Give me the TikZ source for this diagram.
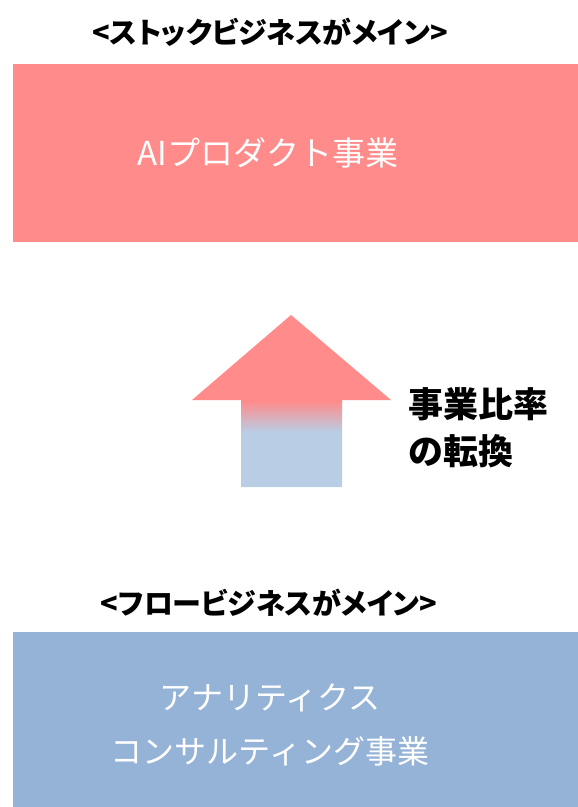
\documentclass[tikz,border=0pt]{standalone}
\usepackage{fontspec}
\setmainfont{Noto Sans CJK JP}
\newfontfamily\headfont[RawFeature=+palt]{Noto Sans CJK JP}
\usetikzlibrary{positioning}

\definecolor{stockred}{RGB}{255,139,139}
\definecolor{flowblue}{RGB}{149,179,215}
\definecolor{paleblue}{RGB}{185,205,228}
\pgfdeclareverticalshading{ratioshade}{100bp}{color(0bp)=(paleblue); color(41bp)=(paleblue); color(50bp)=(stockred); color(100bp)=(stockred)}

\begin{document}
\begin{tikzpicture}[x=1pt,y=-1pt,
    bizbox/.style={rectangle, inner sep=0pt, minimum width=566pt, minimum height=178pt},
    boxtext/.style={text=white, align=center, font=\fontsize{32}{54}\selectfont},
    headline/.style={font=\headfont\fontsize{29}{34}\selectfont\bfseries},
    shifttext/.style={align=left, anchor=west, font=\fontsize{35}{47}\selectfont\bfseries}]
  \useasboundingbox (0,0) rectangle (578,807);

  % stock side
  \node[bizbox, fill=stockred]   (ai)      at (296,153) {};
  \node[boxtext, font=\fontsize{33}{54}\selectfont] (aitext) at (268,153) {AIプロダクト事業};
  \node[headline]                (stock)   at (270,32)  {<ストックビジネスがメイン>};

  % flow side
  \node[bizbox, fill=flowblue, minimum height=176pt] (ana) at (296,720) {};
  \node[boxtext]                 (anatext) at (270,725) {アナリティクス\\コンサルティング事業};
  \node[headline]                (flow)    at (269,603) {<フロービジネスがメイン>};

  % ratio shift arrow
  \shade[shading=ratioshade] (291,315) -- (391,400) -- (342,400) -- (342,487)
        -- (241,487) -- (241,400) -- (192,400) -- cycle;
  \node[shifttext]               (shift)   at (405,428) {事業比率\\の転換};
\end{tikzpicture}
\end{document}
